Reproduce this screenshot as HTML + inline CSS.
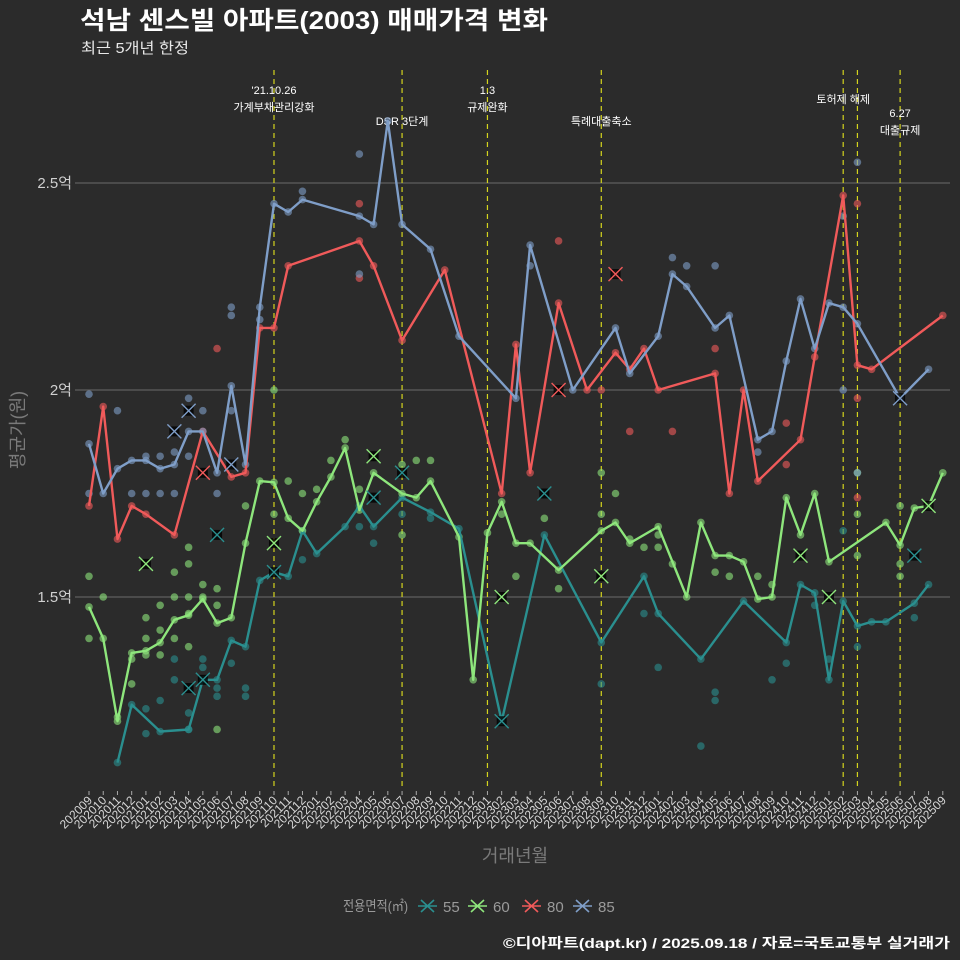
<!DOCTYPE html>
<html><head><meta charset="utf-8"><style>
html,body{margin:0;padding:0;background:#2b2b2b;}
svg{display:block;font-family:"Liberation Sans","Noto Sans CJK KR",sans-serif;}
</style></head><body>
<svg id="chart" width="960" height="960" viewBox="0 0 960 960">
<rect width="960" height="960" fill="#2b2b2b"/>
<text x="80" y="29" fill="#ffffff" font-size="25" font-weight="bold" textLength="468" lengthAdjust="spacingAndGlyphs">석남 센스빌 아파트(2003) 매매가격 변화</text>
<text x="81" y="53" fill="#e8e8e8" font-size="15" textLength="108" lengthAdjust="spacingAndGlyphs">최근 5개년 한정</text>
<g id="grid"></g>
<g id="vlines"></g>
<g id="xaxis"></g>
<g id="points"></g>
<g id="lines"></g>
<g id="xmarks"></g>
<text transform="translate(24,430) rotate(-90)" text-anchor="middle" fill="#7a7a7a" font-size="18">평균가(원)</text>
<text x="515" y="862" text-anchor="middle" fill="#7a7a7a" font-size="18">거래년월</text>
<g id="legend">
<text x="343" y="911" fill="#9a9a9a" font-size="14" textLength="65" lengthAdjust="spacingAndGlyphs">전용면적(㎡)</text>
</g>
<text x="950" y="948" text-anchor="end" fill="#ffffff" font-size="14" font-weight="bold" textLength="447" lengthAdjust="spacingAndGlyphs">©디아파트(dapt.kr) / 2025.09.18 / 자료=국토교통부 실거래가</text>
</svg>
<script>
const months = [];
for (let y = 2020, m = 9; months.length < 61; ) { months.push(y + String(m).padStart(2,'0')); m++; if (m > 12) { m = 1; y++; } }
const seriesNames = ["55","60","80","85"];
const yTicks = [1.5, 2.0, 2.5];
const yTickLabels = ["1.5억","2억","2.5억"];
const line55 = [[2,1.10],[3,1.24],[5,1.175],[7,1.18],[8,1.30],[9,1.30],[10,1.395],[11,1.38],[12,1.54],[13,1.56],[14,1.55],[15,1.66],[16,1.605],[18,1.67],[19,1.72],[20,1.67],[22,1.74],[24,1.705],[26,1.665],[29,1.20],[32,1.65],[36,1.39],[39,1.55],[40,1.46],[43,1.35],[46,1.49],[49,1.39],[50,1.53],[51,1.51],[52,1.30],[53,1.49],[54,1.43],[55,1.44],[56,1.44],[58,1.485],[59,1.53]];
const line60 = [[0,1.476],[1,1.40],[2,1.20],[3,1.365],[4,1.37],[5,1.39],[6,1.445],[7,1.456],[8,1.495],[9,1.437],[10,1.45],[11,1.63],[12,1.78],[13,1.777],[14,1.69],[15,1.66],[16,1.73],[17,1.79],[18,1.86],[19,1.71],[20,1.80],[22,1.75],[23,1.74],[24,1.78],[26,1.645],[27,1.30],[28,1.655],[29,1.73],[30,1.63],[31,1.63],[33,1.565],[36,1.66],[37,1.68],[38,1.63],[40,1.67],[42,1.50],[43,1.68],[44,1.60],[45,1.60],[46,1.585],[47,1.495],[48,1.50],[49,1.74],[50,1.65],[51,1.75],[52,1.585],[56,1.68],[57,1.625],[58,1.715],[59,1.72],[60,1.80]];
const line80 = [[0,1.72],[1,1.96],[2,1.64],[3,1.72],[4,1.70],[6,1.65],[8,1.90],[10,1.79],[11,1.80],[12,2.15],[13,2.15],[14,2.30],[19,2.36],[20,2.30],[22,2.12],[25,2.29],[29,1.75],[30,2.11],[31,1.80],[33,2.21],[35,2.00],[37,2.09],[38,2.05],[39,2.10],[40,2.00],[44,2.04],[45,1.75],[46,2.00],[47,1.78],[50,1.88],[51,2.08],[53,2.47],[54,2.06],[55,2.05],[60,2.18]];
const line85 = [[0,1.87],[1,1.75],[2,1.81],[3,1.83],[4,1.83],[5,1.81],[6,1.82],[7,1.90],[8,1.90],[9,1.80],[10,2.01],[11,1.82],[12,2.20],[13,2.45],[14,2.43],[15,2.46],[19,2.42],[20,2.40],[21,2.65],[22,2.40],[24,2.34],[26,2.13],[30,1.98],[31,2.35],[34,2.00],[37,2.15],[38,2.04],[40,2.13],[41,2.28],[42,2.25],[44,2.15],[45,2.18],[47,1.88],[48,1.90],[49,2.07],[50,2.22],[51,2.10],[52,2.21],[53,2.20],[54,2.16],[57,1.98],[59,2.05]];
const extra55 = [[4,1.23],[4,1.17],[5,1.25],[6,1.35],[6,1.30],[7,1.22],[7,1.18],[8,1.35],[8,1.33],[9,1.28],[9,1.26],[10,1.34],[11,1.28],[11,1.26],[15,1.59],[19,1.67],[20,1.63],[22,1.70],[24,1.69],[36,1.29],[39,1.46],[40,1.33],[43,1.14],[44,1.25],[44,1.27],[48,1.30],[49,1.34],[51,1.48],[52,1.35],[53,1.66],[54,1.38],[58,1.45]];
const extra60 = [[0,1.55],[0,1.40],[1,1.50],[2,1.21],[3,1.35],[3,1.29],[4,1.45],[4,1.40],[4,1.36],[5,1.48],[5,1.42],[5,1.36],[6,1.56],[6,1.50],[6,1.40],[7,1.62],[7,1.58],[7,1.50],[7,1.46],[7,1.38],[8,1.53],[8,1.50],[9,1.52],[9,1.48],[9,1.18],[11,1.72],[13,2.00],[13,1.70],[14,1.78],[15,1.75],[16,1.76],[17,1.83],[18,1.88],[19,1.76],[22,1.82],[22,1.65],[23,1.83],[24,1.83],[29,1.70],[30,1.55],[32,1.69],[33,1.52],[36,1.80],[36,1.70],[37,1.75],[38,1.64],[39,1.62],[40,1.65],[40,1.62],[41,1.58],[44,1.56],[45,1.55],[47,1.55],[48,1.53],[54,1.80],[54,1.70],[54,1.60],[57,1.72],[57,1.55],[57,1.58]];
const extra80 = [[9,2.10],[19,2.27],[19,2.45],[33,2.36],[37,2.28],[38,1.90],[41,1.90],[44,2.10],[49,1.82],[49,1.92],[54,2.45],[54,1.98],[54,1.74],[36,2.00]];
const extra85 = [[0,1.99],[0,1.75],[2,1.95],[3,1.75],[4,1.84],[4,1.75],[5,1.75],[5,1.84],[6,1.85],[6,1.75],[7,1.98],[7,1.84],[8,1.95],[9,1.75],[10,2.20],[10,2.18],[10,1.95],[12,2.17],[19,2.57],[19,2.28],[15,2.48],[31,2.30],[41,2.32],[42,2.30],[44,2.30],[47,1.85],[53,2.42],[54,2.55],[54,1.80],[53,2.00]];
const xMarkS = [3,3,3,2,0,0,1,0,1,1,0,0,0,1,0,1,2,2,1,1,3,0,1,0];
const xMarkI = [7,6,10,8,7,8,4,9,13,20,20,22,29,29,32,36,37,33,50,52,57,58,59,13];
const xMarkV = [1.95,1.90,1.82,1.80,1.28,1.30,1.58,1.65,1.63,1.84,1.74,1.80,1.20,1.50,1.75,1.55,2.28,2.00,1.60,1.50,1.98,1.60,1.72,1.56];
const eventIdx = [13,22,28,36,53,54,57];

const NS = "http://www.w3.org/2000/svg";
function xs(i){ return 89 + i * 14.23; }
function ys(v){ return 390 - (v - 2) * 414; }
function mk(tag, attrs, parent){ const e = document.createElementNS(NS, tag); for (const k in attrs) e.setAttribute(k, attrs[k]); parent.appendChild(e); return e; }
const realColors = ["#2a8f8f","#8ee67c","#f05a5a","#7f9ec8"];
const seriesIdx = [0,1,2,3];
const lineData = [line55,line60,line80,line85];
const extraData = [extra55,extra60,extra80,extra85];

const grid = document.getElementById('grid');
yTicks.forEach((t, k) => {
  const l = mk('line', {x1:75, x2:950, y1:ys(t), y2:ys(t), stroke:'#6b6b6b', 'stroke-width':1}, grid);
  
  
  const tx = mk('text', {x:72, y:ys(t)+5, 'text-anchor':'end', fill:'#d0d0d0', 'font-size':15}, grid);
  tx.textContent = yTickLabels[k];
  
  
});
const vl = document.getElementById('vlines');
const annos = [[13,94,"'21.10.26"],[13,111,"가계부채관리강화"],[22,125,"DSR 3단계"],[28,94,"1.3"],[28,111,"규제완화"],[36,125,"특례대출축소"],[53,103,"토허제 해제"],[57,117,"6.27"],[57,134,"대출규제"]];
eventIdx.forEach(i => {
  const l = mk('line', {x1:xs(i), x2:xs(i), y1:70, y2:790, stroke:'#d4d41e', 'stroke-width':1.2, 'stroke-dasharray':'5,4'}, vl);
  
  
});
annos.forEach(a => {
  const t = mk('text', {x:xs(a[0]), y:a[1], 'text-anchor':'middle', fill:'#ffffff', 'font-size':11}, vl);
  t.textContent = a[2];
  
  
});
const xa = document.getElementById('xaxis');
months.forEach((m, i) => {
  const tk = mk('line', {x1:xs(i), x2:xs(i), y1:791, y2:795, stroke:'#aaaaaa'}, xa);
  
  
  const t = mk('text', {transform:`translate(${xs(i)+4},801) rotate(-45)`, 'text-anchor':'end', fill:'#d8d8d8', 'font-size':12}, xa);
  t.textContent = m;
  
  
});
const pts = document.getElementById('points');
seriesIdx.forEach(s => {
  extraData[s].concat(lineData[s]).forEach(p => {
    const c = mk('circle', {cx:xs(p[0]), cy:ys(p[1]), r:3.8, fill:realColors[s], opacity:0.6}, pts);
    
    
  });
});
const ln = document.getElementById('lines');
seriesIdx.forEach(s => {
  const d = lineData[s].map((p, k) => (k ? 'L' : 'M') + xs(p[0]).toFixed(1) + ',' + ys(p[1]).toFixed(1)).join('');
  const pa = mk('path', {d:d, fill:'none', stroke:realColors[s], 'stroke-width':2.4, 'stroke-linejoin':'round'}, ln);
  
  
});
const xm = document.getElementById('xmarks');
xMarkI.forEach((i, k) => {
  const x = xs(i), y = ys(xMarkV[k]), c = realColors[xMarkS[k]];
  const g = mk('g', {}, xm);
  
  
  mk('rect', {x:x-5, y:y-5, width:10, height:10, fill:'#000', opacity:0.8}, g);
  mk('path', {d:`M${x-7},${y-7}L${x+7},${y+7}M${x-7},${y+7}L${x+7},${y-7}`, stroke:c, 'stroke-width':1.4}, g);
});
const lg = document.getElementById('legend');
const legX = [418, 468, 522, 573];
seriesIdx.forEach(s => {
  const x = legX[s], y = 906;
  const g = mk('g', {}, lg);
  
  
  mk('path', {d:`M${x},${y}L${x+19},${y}M${x+3},${y-6}L${x+16},${y+6}M${x+3},${y+6}L${x+16},${y-6}`, stroke:realColors[s], 'stroke-width':1.6}, g);
  const t = mk('text', {x:x+25, y:y+6, fill:'#9a9a9a', 'font-size':15}, g);
  t.textContent = seriesNames[s];
});
</script>
</body></html>
